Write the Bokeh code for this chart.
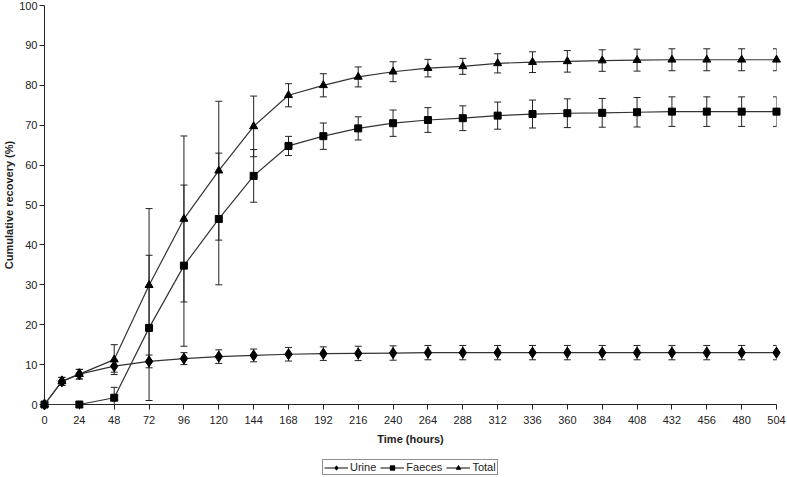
from bokeh.plotting import figure
from bokeh.layouts import column
from bokeh.models import ColumnDataSource, Whisker, TeeHead, FixedTicker, Range1d, Legend, LegendItem
from bokeh.embed import file_html
from bokeh.resources import INLINE

# ---- data ----
hours = [0, 12, 24, 48, 72, 96, 120, 144, 168, 192, 216, 240, 264, 288, 312,
         336, 360, 384, 408, 432, 456, 480, 504]
faeces_hours = [0, 24, 48, 72, 96, 120, 144, 168, 192, 216, 240, 264, 288, 312,
                336, 360, 384, 408, 432, 456, 480, 504]

urine = [0, 5.8, 7.6, 9.6, 10.8, 11.5, 12.0, 12.3, 12.6, 12.75, 12.8, 12.9, 13.0,
         13.0, 13.0, 13.0, 13.0, 13.0, 13.0, 13.0, 13.0, 13.0, 13.0]
urine_err = [0, 1.0, 1.2, 1.5, 1.6, 1.5, 1.7, 1.6, 1.7, 1.7, 1.8, 1.8, 1.8,
             1.8, 1.8, 1.8, 1.8, 1.8, 1.8, 1.8, 1.8, 1.8, 1.8]

faeces = [0, 0, 1.7, 19.2, 34.8, 46.5, 57.3, 64.8, 67.25, 69.2, 70.5, 71.3, 71.75,
          72.4, 72.8, 73.0, 73.1, 73.25, 73.4, 73.4, 73.4, 73.4]
faeces_err = [0, 0, 2.6, 18.2, 20.2, 16.5, 6.6, 2.4, 3.3, 2.9, 3.3, 3.1, 3.1,
              3.4, 3.5, 3.6, 3.6, 3.7, 3.7, 3.7, 3.7, 3.7]

total = [0, 5.8, 7.6, 11.25, 29.9, 46.5, 58.6, 69.7, 77.5, 80.0, 82.1, 83.4, 84.3,
         84.75, 85.5, 85.8, 86.0, 86.2, 86.3, 86.4, 86.4, 86.4, 86.4]
total_err = [0, 1.0, 1.2, 3.75, 19.2, 20.8, 17.4, 7.6, 2.9, 2.9, 2.5, 2.5, 2.2,
             2.0, 2.4, 2.6, 2.7, 2.7, 2.75, 2.75, 2.75, 2.75, 2.75]

x_ticks = list(range(0, 505, 24))
y_ticks = list(range(0, 101, 10))

FONT = "Liberation Sans"
TXT = "#222222"
LINE = "#333333"

p = figure(width=787, height=447, output_backend="svg", toolbar_location=None,
           x_range=Range1d(0, 504), y_range=Range1d(0, 100),
           min_border_left=20, min_border_right=11, min_border_top=5, min_border_bottom=20)
p.outline_line_color = None
p.xgrid.visible = False
p.ygrid.visible = False
p.background_fill_color = "white"
p.border_fill_color = "white"

for ax in (p.xaxis[0], p.yaxis[0]):
    ax.axis_line_color = "#222222"
    ax.axis_line_width = 1
    ax.major_tick_line_color = "#222222"
    ax.major_tick_in = 0
    ax.major_tick_out = 5
    ax.minor_tick_line_color = None
    ax.major_label_text_font = FONT
    ax.major_label_text_font_size = "11px"
    ax.major_label_text_color = TXT
    ax.axis_label_text_font = FONT
    ax.axis_label_text_font_size = "11px"
    ax.axis_label_text_font_style = "bold"
    ax.axis_label_text_color = TXT

p.xaxis.ticker = FixedTicker(ticks=x_ticks)
p.yaxis.ticker = FixedTicker(ticks=y_ticks)
p.xaxis.axis_label = "Time (hours)"
p.yaxis.axis_label = "Cumulative recovery (%)"
p.xaxis.major_label_standoff = 6
p.xaxis.axis_label_standoff = 6
p.yaxis.major_label_standoff = 2
p.yaxis.axis_label_standoff = 1

series = [
    ("Urine", hours, urine, urine_err, "diamond", 11),
    ("Faeces", faeces_hours, faeces, faeces_err, "square", 7),
    ("Total", hours, total, total_err, "triangle", 8),
]

# legend strip below the chart (its ranges keep the proxy glyphs out of view)
lg = figure(width=787, height=30, output_backend="svg", toolbar_location=None,
            x_range=Range1d(10000, 10001), y_range=Range1d(10000, 10001),
            x_axis_location=None, y_axis_location=None,
            min_border=0)
lg.outline_line_color = None
lg.xgrid.visible = False
lg.ygrid.visible = False

items = []
for name, xs, ys, es, marker, size in series:
    wx = [x for x, e in zip(xs, es) if e > 0]
    wu = [y + e for y, e in zip(ys, es) if e > 0]
    wl = [max(0.0, y - e) for y, e in zip(ys, es) if e > 0]
    wsrc = ColumnDataSource(dict(x=wx, upper=wu, lower=wl))
    w = Whisker(base="x", upper="upper", lower="lower", source=wsrc,
                line_color="#222222", line_width=1,
                upper_head=TeeHead(size=7, line_color="#222222", line_width=1),
                lower_head=TeeHead(size=7, line_color="#222222", line_width=1))
    p.add_layout(w)
    src = ColumnDataSource(dict(x=xs, y=ys))
    p.line("x", "y", source=src, line_color=LINE, line_width=1.2, level="overlay")
    p.scatter("x", "y", source=src, marker=marker, size=size,
              fill_color="black", line_color="black", level="overlay")
    # legend proxies (same data, outside the strip's visible ranges)
    ln = lg.line("x", "y", source=src, line_color=LINE, line_width=1.2)
    sc = lg.scatter("x", "y", source=src, marker=marker, size=size - 2,
                    fill_color="black", line_color="black")
    items.append(LegendItem(label=name, renderers=[ln, sc]))

legend = Legend(items=items, orientation="horizontal", location=(278, 2),
                border_line_color="#222222", border_line_width=1,
                padding=1, margin=0, spacing=4, label_standoff=2,
                glyph_width=24, glyph_height=11, label_height=11,
                label_text_font=FONT, label_text_font_size="11px",
                label_text_color=TXT, background_fill_alpha=1)
lg.add_layout(legend, "center")

layout = column(p, lg, spacing=0)
open("out.html", "w").write(file_html(layout, INLINE))
